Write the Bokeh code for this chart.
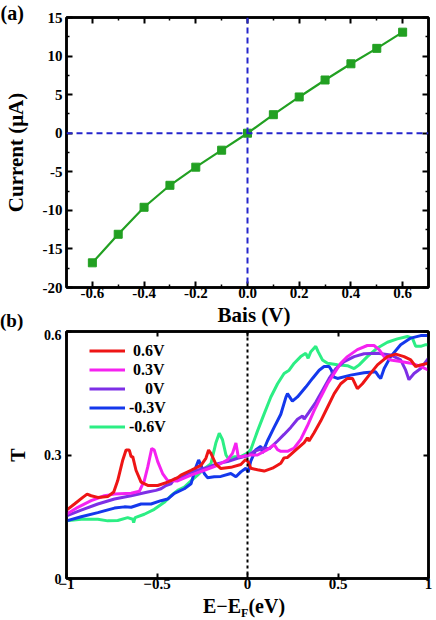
from bokeh.plotting import figure
from bokeh.models import (Span, Legend, LegendItem, FixedTicker, Div,
                          PrintfTickFormatter, LinearAxis, CustomJSTickFormatter)
from bokeh.layouts import column
from bokeh.embed import file_html
from bokeh.resources import INLINE

FONT = "Liberation Serif"

# ---------------- panel (a) data ----------------
bias = [-0.6, -0.5, -0.4, -0.3, -0.2, -0.1, 0.0, 0.1, 0.2, 0.3, 0.4, 0.5, 0.6]
current = [-16.8, -13.1, -9.6, -6.75, -4.4, -2.2, 0.0, 2.4, 4.7, 6.9, 9.0, 11.0, 13.1]

# ---------------- panel (b) data ----------------
e_red = [-1.0, -0.956, -0.91, -0.886, -0.864, -0.827, -0.772, -0.739, -0.717, -0.689, -0.671, -0.653,
         -0.643, -0.634, -0.616, -0.588, -0.551, -0.496, -0.441, -0.386, -0.368, -0.312, -0.257, -0.23,
         -0.215, -0.202, -0.175, -0.147, -0.092, -0.037, -0.01, 0.004, 0.018, 0.055, 0.092, 0.138, 0.184,
         0.202, 0.221, 0.258, 0.313, 0.331, 0.34, 0.368, 0.405, 0.442, 0.479, 0.515, 0.552, 0.58, 0.607,
         0.635, 0.672, 0.718, 0.773, 0.819, 0.865, 0.902, 0.929, 0.957, 1.0]
t_red = [0.166, 0.181, 0.197, 0.205, 0.201, 0.197, 0.199, 0.21, 0.238, 0.288, 0.312, 0.312, 0.296, 0.296,
         0.263, 0.234, 0.226, 0.226, 0.234, 0.245, 0.251, 0.263, 0.275, 0.292, 0.312, 0.304, 0.278, 0.267,
         0.27, 0.277, 0.289, 0.283, 0.268, 0.264, 0.261, 0.268, 0.28, 0.293, 0.294, 0.309, 0.33, 0.342,
         0.334, 0.354, 0.383, 0.416, 0.449, 0.473, 0.486, 0.486, 0.461, 0.473, 0.494, 0.519, 0.539, 0.545,
         0.539, 0.531, 0.515, 0.519, 0.523]

e_mag = [-1.0, -0.9375, -0.864, -0.79, -0.735, -0.643, -0.597, -0.57, -0.551, -0.529, -0.515, -0.496,
         -0.469, -0.441, -0.386, -0.312, -0.239, -0.165, -0.11, -0.083, -0.064, -0.051, -0.028, 0.0, 0.055,
         0.11, 0.147, 0.166, 0.184, 0.221, 0.258, 0.294, 0.331, 0.368, 0.405, 0.442, 0.479, 0.515, 0.552,
         0.607, 0.662, 0.699, 0.727, 0.755, 0.791, 0.846, 0.902, 0.957, 1.0]
t_mag = [0.156, 0.173, 0.189, 0.201, 0.205, 0.207, 0.212, 0.238, 0.271, 0.316, 0.312, 0.284, 0.255, 0.238,
         0.237, 0.251, 0.263, 0.275, 0.288, 0.304, 0.329, 0.296, 0.296, 0.3, 0.3, 0.313, 0.325, 0.313, 0.309,
         0.309, 0.317, 0.338, 0.371, 0.408, 0.441, 0.473, 0.498, 0.523, 0.539, 0.556, 0.566, 0.566, 0.556,
         0.539, 0.531, 0.527, 0.523, 0.515, 0.506]

e_pur = [-1.0, -0.919, -0.827, -0.735, -0.643, -0.551, -0.506, -0.478, -0.45, -0.423, -0.404, -0.377,
         -0.331, -0.276, -0.221, -0.165, -0.11, -0.055, 0.0, 0.037, 0.092, 0.12, 0.166, 0.202, 0.239, 0.276,
         0.304, 0.313, 0.34, 0.377, 0.414, 0.451, 0.488, 0.534, 0.589, 0.644, 0.718, 0.791, 0.846, 0.874,
         0.892, 0.92, 0.957, 1.0]
t_pur = [0.152, 0.166, 0.181, 0.193, 0.201, 0.21, 0.214, 0.218, 0.226, 0.23, 0.242, 0.242, 0.255, 0.263,
         0.27, 0.279, 0.284, 0.292, 0.298, 0.309, 0.317, 0.315, 0.334, 0.35, 0.367, 0.387, 0.395, 0.387,
         0.404, 0.428, 0.457, 0.486, 0.51, 0.527, 0.539, 0.546, 0.547, 0.543, 0.531, 0.506, 0.483, 0.498,
         0.51, 0.535]

e_blu = [-1.0, -0.919, -0.827, -0.735, -0.68, -0.643, -0.588, -0.533, -0.478, -0.441, -0.404, -0.349,
         -0.312, -0.285, -0.27, -0.257, -0.239, -0.221, -0.184, -0.147, -0.092, -0.064, -0.037, -0.009,
         0.004, 0.018, 0.046, 0.074, 0.083, 0.11, 0.147, 0.184, 0.212, 0.221, 0.248, 0.276, 0.322, 0.359,
         0.396, 0.423, 0.451, 0.464, 0.475, 0.497, 0.57, 0.644, 0.708, 0.727, 0.736, 0.755, 0.791, 0.846,
         0.902, 0.957, 1.0]
t_blu = [0.14, 0.15, 0.16, 0.171, 0.174, 0.173, 0.181, 0.181, 0.189, 0.193, 0.207, 0.218, 0.23, 0.271,
         0.288, 0.275, 0.255, 0.245, 0.247, 0.248, 0.255, 0.247, 0.259, 0.268, 0.258, 0.285, 0.313, 0.321,
         0.305, 0.334, 0.367, 0.399, 0.44, 0.449, 0.431, 0.441, 0.465, 0.486, 0.506, 0.515, 0.515, 0.506,
         0.49, 0.486, 0.494, 0.5, 0.502, 0.49, 0.486, 0.51, 0.539, 0.568, 0.584, 0.59, 0.59]

e_grn = [-1.0, -0.919, -0.827, -0.772, -0.717, -0.662, -0.634, -0.629, -0.621, -0.57, -0.515, -0.46,
         -0.423, -0.386, -0.349, -0.312, -0.276, -0.239, -0.202, -0.175, -0.156, -0.138, -0.119, -0.101,
         -0.074, -0.037, 0.0, 0.018, 0.055, 0.092, 0.129, 0.166, 0.202, 0.23, 0.258, 0.294, 0.322, 0.335,
         0.35, 0.377, 0.39, 0.414, 0.442, 0.497, 0.552, 0.589, 0.617, 0.662, 0.718, 0.773, 0.828, 0.883,
         0.911, 0.929, 0.957, 0.985, 1.0]
t_grn = [0.14, 0.144, 0.144, 0.14, 0.141, 0.148, 0.144, 0.136, 0.148, 0.156, 0.168, 0.185, 0.201, 0.214,
         0.222, 0.237, 0.251, 0.267, 0.279, 0.329, 0.353, 0.337, 0.3, 0.288, 0.296, 0.296, 0.305, 0.313,
         0.358, 0.4, 0.441, 0.473, 0.498, 0.506, 0.523, 0.539, 0.547, 0.535, 0.551, 0.564, 0.551, 0.531,
         0.523, 0.519, 0.517, 0.51, 0.519, 0.539, 0.56, 0.574, 0.582, 0.588, 0.584, 0.564, 0.564, 0.568,
         0.568]

series_labels = ["\u00a00.6V", "\u00a00.3V", "\u00a0\u00a0\u00a0\u00a00V", "-0.3V", "-0.6V"]
series_colors = ["#ee1515", "#f522f0", "#7d2fe6", "#1438ec", "#2cee84"]

a_xticks = [-0.6, -0.4, -0.2, 0.0, 0.2, 0.4, 0.6]
a_xminor = [-0.5, -0.3, -0.1, 0.1, 0.3, 0.5]
a_yticks = [-20, -15, -10, -5, 0, 5, 10, 15]
a_yminor = [-17.5, -12.5, -7.5, -2.5, 2.5, 7.5, 12.5]
b_xticks = [-1, -0.5, 0, 0.5, 1]
b_xlabels = ["\u22121", "\u22120.5", "0", "0.5", "1"]
b_yticks = [0, 0.3, 0.6]
b_ylabels = ["0", "0.3", "0.6"]


def style_axis(ax, size, tin, minor_in=0, standoff=3):
    ax.axis_line_color = "black"
    ax.axis_line_width = 2.5
    ax.major_tick_in = tin
    ax.major_tick_out = 0
    ax.minor_tick_in = minor_in
    ax.minor_tick_out = 0
    ax.major_tick_line_width = 2
    ax.minor_tick_line_width = 1.5
    ax.major_label_text_font = FONT
    ax.major_label_text_font_style = "bold"
    ax.major_label_text_font_size = size
    ax.major_label_text_color = "black"
    ax.major_label_standoff = standoff
    ax.axis_label_text_font = FONT
    ax.axis_label_text_font_style = "bold"
    ax.axis_label_text_color = "black"


def mirror_axis(p, ticker, side, tin, minor_in):
    ax = LinearAxis(ticker=ticker, formatter=CustomJSTickFormatter(code="return ''"))
    style_axis(ax, "1px", tin, minor_in, standoff=0)
    p.add_layout(ax, side)


BOX = ("position:relative;width:436px;height:{h}px;overflow:visible;"
       "font-family:'Liberation Serif',serif;font-weight:bold;color:#000;")
SPAN = "position:absolute;white-space:nowrap;left:{l}px;top:{t}px;font-size:{s}px;line-height:{s}px;"

# ================= panel (a) =================
p1 = figure(width=436, height=304, x_range=(-0.7, 0.7), y_range=(-20, 15),
            output_backend="svg", toolbar_location=None,
            min_border_left=66, min_border_right=7, min_border_top=17, min_border_bottom=17)
p1.grid.visible = False
p1.outline_line_color = "black"
p1.outline_line_width = 2.5
p1.background_fill_color = "white"
p1.border_fill_color = "white"

xt1 = FixedTicker(ticks=a_xticks, minor_ticks=a_xminor)
yt1 = FixedTicker(ticks=a_yticks, minor_ticks=a_yminor)
p1.xaxis.ticker = xt1
p1.yaxis.ticker = yt1
p1.xaxis.formatter = PrintfTickFormatter(format="%.1f")
p1.yaxis.formatter = PrintfTickFormatter(format="%d")
style_axis(p1.xaxis[0], "15px", 6, 3, standoff=0)
style_axis(p1.yaxis[0], "15px", 6, 3, standoff=4)
p1.yaxis.axis_label = "Current (\u03bcA)"
p1.yaxis.axis_label_text_font_size = "21px"
p1.yaxis.axis_label_standoff = 12
mirror_axis(p1, xt1, "above", 6, 3)
mirror_axis(p1, yt1, "right", 6, 3)

p1.title.text = "(a)"
p1.title.align = "left"
p1.title.offset = -66
p1.title.standoff = -12
p1.title.text_font = FONT
p1.title.text_font_style = "bold"
p1.title.text_font_size = "20px"
p1.title.text_color = "black"

p1.add_layout(Span(location=0, dimension="height", line_color="#2424cc",
                   line_dash="6 4", line_width=2))
p1.add_layout(Span(location=0, dimension="width", line_color="#2424cc",
                   line_dash="6 4", line_width=2))
p1.line(bias, current, line_color="#22a022", line_width=2.2)
p1.scatter(bias, current, marker="square", size=8, fill_color="#22a022", line_color="#22a022")

# text row between the panels: x-axis title of (a) and panel tag (b)
div1 = Div(width=436, height=25, margin=0,
           text=('<div style="' + BOX.format(h=25) + '">'
                 '<span style="' + SPAN.format(l=0, t=7, s=19) + '">(b)</span>'
                 '<span style="' + SPAN.format(l=254, t=1, s=21) + 'transform:translateX(-50%);">Bais (V)</span>'
                 '</div>'))

# ================= panel (b) =================
p2 = figure(width=436, height=266, x_range=(-1, 1), y_range=(0, 0.6),
            output_backend="svg", toolbar_location=None, title_location=None,
            min_border_left=66, min_border_right=8, min_border_top=2, min_border_bottom=17)
p2.grid.visible = False
p2.outline_line_color = "black"
p2.outline_line_width = 2.5
p2.background_fill_color = "white"
p2.border_fill_alpha = 0

xt2 = FixedTicker(ticks=b_xticks, minor_ticks=[])
yt2 = FixedTicker(ticks=b_yticks, minor_ticks=[])
p2.xaxis.ticker = xt2
p2.yaxis.ticker = yt2
p2.xaxis.major_label_overrides = dict(zip(b_xticks, b_xlabels))
p2.yaxis.major_label_overrides = dict(zip(b_yticks, b_ylabels))
style_axis(p2.xaxis[0], "15px", 5, 0, standoff=0)
style_axis(p2.yaxis[0], "14px", 5, 0, standoff=5)
p2.yaxis.axis_label = "T"
p2.yaxis.axis_label_text_font_size = "20px"
p2.yaxis.axis_label_standoff = 12
mirror_axis(p2, xt2, "above", 5, 0)
mirror_axis(p2, yt2, "right", 5, 0)

p2.add_layout(Span(location=0, dimension="height", line_color="black",
                   line_dash="3 3", line_width=2))

curves = [(e_red, t_red), (e_mag, t_mag), (e_pur, t_pur), (e_blu, t_blu), (e_grn, t_grn)]
renderers = [None] * 5
for i in [4, 3, 2, 1, 0]:
    ex, ty = curves[i]
    renderers[i] = p2.line(ex, ty, line_color=series_colors[i], line_width=3)

legend = Legend(items=[LegendItem(label=series_labels[i], renderers=[renderers[i]]) for i in range(5)],
                location=(23, 142), orientation="vertical", glyph_width=36, glyph_height=19,
                label_height=19, spacing=0, padding=0, margin=0, label_standoff=4,
                label_text_font=FONT, label_text_font_style="bold", label_text_font_size="16px",
                label_text_color="black", border_line_alpha=0, background_fill_alpha=0)
p2.add_layout(legend)

# text row below panel (b): x-axis title E-E_F(eV)
div2 = Div(width=436, height=25, margin=0,
           text=('<div style="' + BOX.format(h=25) + '">'
                 '<span style="' + SPAN.format(l=203, t=1, s=20) + '">E\u2212E'
                 '<span style="font-size:12px;line-height:1;vertical-align:-4px;">F</span>(eV)</span>'
                 '</div>'))

layout = column(p1, div1, p2, div2, spacing=0)
open("out.html", "w").write(file_html(layout, INLINE))
